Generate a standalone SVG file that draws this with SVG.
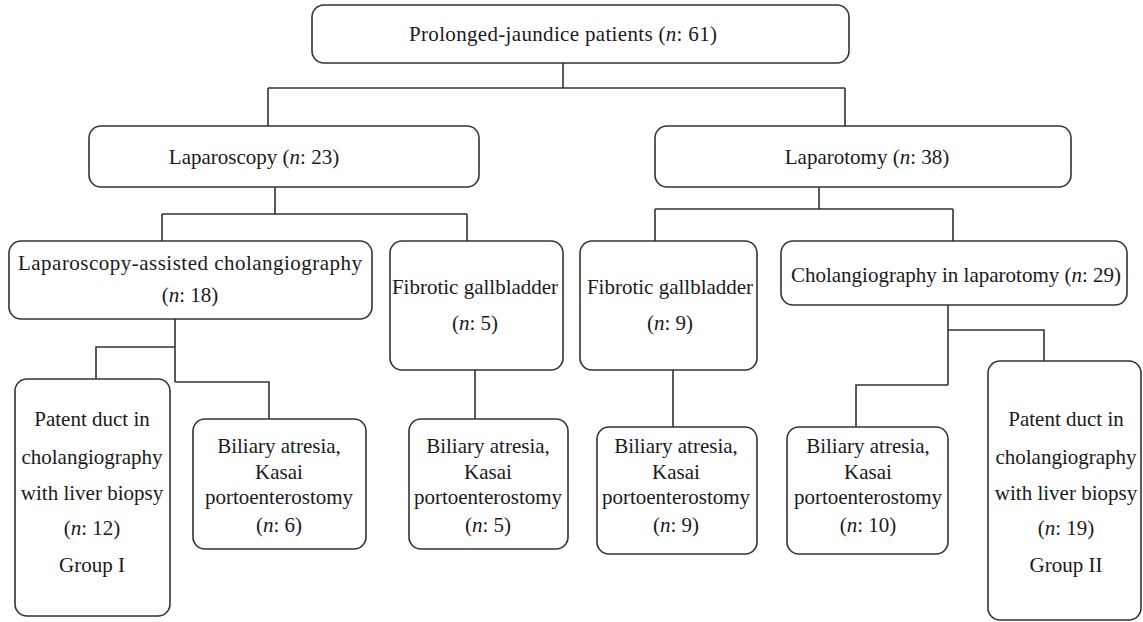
<svg xmlns="http://www.w3.org/2000/svg" width="1143" height="622" viewBox="0 0 1143 622">
<style>
.box{fill:#fff;stroke:#333;stroke-width:1.6}
.ln{fill:none;stroke:#333;stroke-width:1.6}
text{font-family:"Liberation Serif","Times New Roman",serif;font-size:21px;fill:#1a1a1a;text-anchor:middle}
.i{font-style:italic}
</style>
<rect width="1143" height="622" fill="#fff"/>
<g id="connectors">
<path class="ln" d="M563 63V88M268 88H845M268 88V126M845 88V126"/>
<path class="ln" d="M275 187V214M162 214H467M162 214V241M467 214V241"/>
<path class="ln" d="M819 187V209M655 209H953M655 209V241M953 209V241"/>
<path class="ln" d="M175 319V382M175 347H96V379M175 382H269V419"/>
<path class="ln" d="M475 370V419"/>
<path class="ln" d="M673 370V427"/>
<path class="ln" d="M948 305V385M948 330H1044V361M948 385H856V427"/>
</g>
<g id="n_top"><rect class="box" x="312" y="5" width="537" height="58" rx="12"/><text x="563" y="41" textLength="308" lengthAdjust="spacing">Prolonged-jaundice patients (<tspan class="i">n</tspan>: 61)</text></g>
<g id="n_laparoscopy"><rect class="box" x="89" y="126" width="390" height="61" rx="12"/><text x="254" y="164">Laparoscopy (<tspan class="i">n</tspan>: 23)</text></g>
<g id="n_laparotomy"><rect class="box" x="655" y="126" width="416" height="61" rx="12"/><text x="867" y="164">Laparotomy (<tspan class="i">n</tspan>: 38)</text></g>
<g id="n_lac"><rect class="box" x="9" y="241" width="363" height="78" rx="12"/><text x="190" y="270" textLength="344" lengthAdjust="spacing">Laparoscopy-assisted cholangiography</text><text x="190" y="302">(<tspan class="i">n</tspan>: 18)</text></g>
<g id="n_fib1"><rect class="box" x="390" y="241" width="173" height="129" rx="12"/><text x="475" y="294">Fibrotic gallbladder</text><text x="475" y="330">(<tspan class="i">n</tspan>: 5)</text></g>
<g id="n_fib2"><rect class="box" x="580" y="241" width="177" height="129" rx="12"/><text x="670" y="294">Fibrotic gallbladder</text><text x="670" y="330">(<tspan class="i">n</tspan>: 9)</text></g>
<g id="n_cil"><rect class="box" x="781" y="241" width="346" height="64" rx="12"/><text x="956" y="282">Cholangiography in laparotomy (<tspan class="i">n</tspan>: 29)</text></g>
<g id="n_pd1"><rect class="box" x="15" y="379" width="155" height="237" rx="12"/><text x="92" y="426">Patent duct in</text><text x="92" y="464">cholangiography</text><text x="92" y="500">with liver biopsy</text><text x="92" y="535">(<tspan class="i">n</tspan>: 12)</text><text x="92" y="572">Group I</text></g>
<g id="n_ba6"><rect class="box" x="193" y="419" width="173" height="130" rx="12"/><text x="279" y="453">Biliary atresia,</text><text x="279" y="479">Kasai</text><text x="279" y="504">portoenterostomy</text><text x="279" y="532">(<tspan class="i">n</tspan>: 6)</text></g>
<g id="n_ba5"><rect class="box" x="409" y="419" width="159" height="130" rx="12"/><text x="488" y="453">Biliary atresia,</text><text x="488" y="479">Kasai</text><text x="488" y="504">portoenterostomy</text><text x="488" y="532">(<tspan class="i">n</tspan>: 5)</text></g>
<g id="n_ba9"><rect class="box" x="597" y="427" width="160" height="127" rx="12"/><text x="676" y="453">Biliary atresia,</text><text x="676" y="479">Kasai</text><text x="676" y="504">portoenterostomy</text><text x="676" y="532">(<tspan class="i">n</tspan>: 9)</text></g>
<g id="n_ba10"><rect class="box" x="787" y="427" width="161" height="127" rx="12"/><text x="868" y="453">Biliary atresia,</text><text x="868" y="479">Kasai</text><text x="868" y="504">portoenterostomy</text><text x="868" y="532">(<tspan class="i">n</tspan>: 10)</text></g>
<g id="n_pd2"><rect class="box" x="988" y="361" width="153" height="259" rx="12"/><text x="1066" y="426">Patent duct in</text><text x="1066" y="464">cholangiography</text><text x="1066" y="500">with liver biopsy</text><text x="1066" y="535">(<tspan class="i">n</tspan>: 19)</text><text x="1066" y="572">Group II</text></g>
</svg>
